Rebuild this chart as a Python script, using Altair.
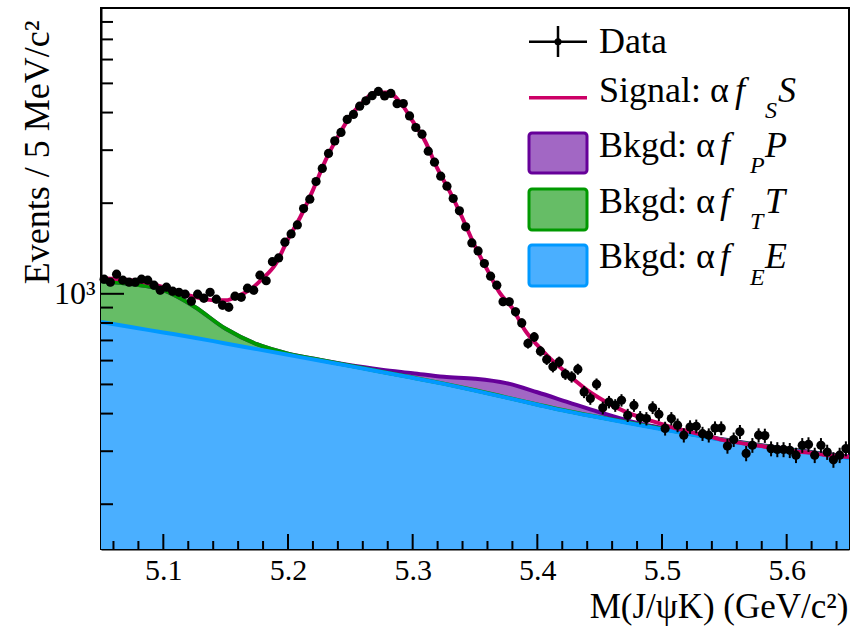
import altair as alt
import numpy as np
import pandas as pd

# ---------------- data ----------------
BIN_LO = 5.05          # GeV/c^2, left edge of first bin
BIN_W = 0.005          # 5 MeV/c^2 bins
counts = [
    1118, 1093, 1162, 1110, 1093, 1093, 1118, 1110, 1068, 1028,
    1052, 1020, 1012, 997, 945, 997, 967, 1012, 960, 917,
    903, 982, 974, 1044, 1028, 1153, 1105, 1278, 1316, 1484,
    1581, 1694, 1920, 2062, 2361, 2608, 2925, 3221, 3435, 3794,
    3942, 4201, 4375, 4552, 4701, 4541, 4629, 4281, 4287, 3899,
    3568, 3390, 2977, 2737, 2458, 2278, 2073, 1886, 1669, 1476,
    1388, 1261, 1144, 1068, 941, 941, 871, 800, 684, 719,
    645, 605, 572, 594, 541, 530, 562, 472, 449, 501,
    418, 437, 426, 443, 395, 426, 388, 385, 419, 398,
    357, 385, 366, 339, 361, 363, 343, 339, 358, 358,
    312, 328, 348, 295, 314, 339, 338, 306, 304, 304,
    302, 291, 314, 316, 291, 314, 298, 281, 291, 306,
]

# total fit curve (signal line), sampled every 10 MeV
fit_x = [5.05, 5.06, 5.07, 5.08, 5.09, 5.10, 5.11, 5.12, 5.13, 5.14,
         5.15, 5.16, 5.17, 5.18, 5.19, 5.20, 5.21, 5.22, 5.23, 5.24,
         5.25, 5.26, 5.27, 5.28, 5.29, 5.30, 5.31, 5.32, 5.33, 5.34,
         5.35, 5.36, 5.37, 5.38, 5.39, 5.40, 5.41, 5.42, 5.43, 5.44,
         5.45, 5.46, 5.47, 5.48, 5.49, 5.50, 5.51, 5.52, 5.53, 5.54,
         5.55, 5.56, 5.57, 5.58, 5.59, 5.60, 5.61, 5.62, 5.63, 5.64, 5.65]
fit_total = [1127, 1122, 1114, 1101, 1080, 1052, 1020, 989, 967, 952,
             952, 982, 1036, 1127, 1254, 1518, 1803, 2210, 2768, 3327,
             3890, 4330, 4660, 4660, 4330, 3745, 3211, 2598, 2175, 1782,
             1439, 1198, 1005, 896, 757, 675, 611, 562, 516, 479,
             450, 426, 407, 392, 380, 369, 358, 350, 342, 334,
             326, 321, 316, 312, 307, 303, 299, 296, 292, 289, 287]

# stacked background components (cumulative edges), sampled every 25 MeV
comp_x = [5.050, 5.075, 5.100, 5.125, 5.150, 5.175, 5.200, 5.225, 5.250,
          5.275, 5.300, 5.325, 5.350, 5.375, 5.400, 5.425, 5.450, 5.475,
          5.500, 5.525, 5.550, 5.575, 5.600, 5.625, 5.650]
edge_E = [806, 774, 744, 715, 684, 655, 627, 600, 575, 550, 526, 502, 477,
          452, 428, 406, 388, 371, 355, 340, 326, 314, 304, 294, 285]
edge_ET = [1101, 1076, 1028, 906, 765, 680, 633, 604, 577, 551, 527, 503,
           478, 453, 429, 407, 389, 372, 356, 341, 327, 315, 305, 295, 286]
edge_ETP = [1101, 1076, 1028, 906, 765, 680, 633, 604, 579, 560, 545, 530,
            522, 505, 471, 436, 404, 377, 359, 343, 328, 316, 306, 296, 288]

x_major = [5.1, 5.2, 5.3, 5.4, 5.5, 5.6]
x_minor = [5.06, 5.08, 5.12, 5.14, 5.16, 5.18, 5.22, 5.24, 5.26, 5.28,
           5.32, 5.34, 5.36, 5.38, 5.42, 5.44, 5.46, 5.48, 5.52, 5.54,
           5.56, 5.58, 5.62, 5.64]
y_major = [1000]
y_minor = [200, 300, 400, 500, 600, 700, 800, 900,
           2000, 3000, 4000, 5000, 6000, 7000, 8000]
Y_LO, Y_HI = 142, 8900

# ---------------- style ----------------
W, H = 748, 541
FONT = "Liberation Serif"
C_SIG = "#cc0066"
C_E, F_E = "#0099ff", "#4aafff"
C_T, F_T = "#009900", "#66bd66"
C_P, F_P = "#660099", "#a267c4"

XS = alt.Scale(domain=[5.05, 5.65], nice=False, zero=False)
YS = alt.Scale(type="log", domain=[Y_LO, Y_HI], nice=False)

data_df = pd.DataFrame({"x": BIN_LO + BIN_W * (np.arange(len(counts)) + 0.5),
                        "y": counts})
data_df["lo"] = data_df["y"] - np.sqrt(data_df["y"])
data_df["hi"] = data_df["y"] + np.sqrt(data_df["y"])
comp_df = pd.DataFrame({"x": comp_x, "e": edge_E, "et": edge_ET, "etp": edge_ETP})
comp_df["floor"] = Y_LO
fit_df = pd.DataFrame({"x": fit_x, "y": fit_total})

x_axis = alt.Axis(values=x_major, format=".1f", labelFont=FONT, labelFontSize=30,
                  labelColor="black", tickSize=0, labelPadding=6,
                  domainColor="black", domainWidth=2, grid=False,
                  title="M(J/ψK) (GeV/c²)", titleFont=FONT, titleFontSize=35,
                  titleFontWeight="normal", titleColor="black",
                  titleAlign="right", titleBaseline="alphabetic",
                  titleX=W - 1, titleY=68)
y_axis = alt.Axis(values=y_major, labelExpr="'10³'", labelFont=FONT,
                  labelFontSize=32, labelColor="black", tickSize=0,
                  labelPadding=6, domainColor="black", domainWidth=2,
                  grid=False, title="Events / 5 MeV/c²", titleFont=FONT,
                  titleFontSize=36, titleFontWeight="normal",
                  titleColor="black", titleAngle=270, titleAlign="right",
                  titleBaseline="alphabetic", titleX=-53, titleY=12)


def X(field="x"):
    return alt.X(f"{field}:Q", scale=XS, axis=x_axis)


def Y(field):
    return alt.Y(f"{field}:Q", scale=YS, axis=y_axis)


base_c = alt.Chart(comp_df)
area_E = base_c.mark_area(color=F_E, interpolate="monotone").encode(
    x=X(), y=Y("e"), y2="floor:Q")
area_T = base_c.mark_area(color=F_T, interpolate="monotone").encode(
    x=X(), y=Y("et"), y2="e:Q")
area_P = base_c.mark_area(color=F_P, interpolate="monotone").encode(
    x=X(), y=Y("etp"), y2="et:Q")


def edge(field, color):
    return base_c.mark_line(color=color, strokeWidth=4, interpolate="monotone").encode(
        x=X(), y=Y(field))


line_P = edge("etp", C_P)
line_T = edge("et", C_T)
line_E = edge("e", C_E)

fit_line = alt.Chart(fit_df).mark_line(color=C_SIG, strokeWidth=4,
                                       interpolate="monotone").encode(
    x=X(), y=Y("y"))

err = alt.Chart(data_df).mark_rule(color="black", strokeWidth=2).encode(
    x=X(), y=Y("lo"), y2="hi:Q")
pts = alt.Chart(data_df).mark_circle(color="black", size=85, opacity=1).encode(
    x=X(), y=Y("y"))


# inner ticks (ROOT style)
def xticks(vals, length):
    return alt.Chart(pd.DataFrame({"x": vals})).mark_rule(color="black", strokeWidth=2).encode(
        x=X(), y=alt.value(H), y2=alt.value(H - length))


def yticks(vals, length):
    return alt.Chart(pd.DataFrame({"y": vals})).mark_rule(color="black", strokeWidth=2).encode(
        y=Y("y"), x=alt.value(0), x2=alt.value(length))


ticks = [xticks(x_major, 15), xticks(x_minor, 8), yticks(y_major, 23), yticks(y_minor, 12)]

# ---------------- legend ----------------
one = pd.DataFrame({"k": [0]})


def txt(s, x, y, size=36, style="normal"):
    return alt.Chart(one).mark_text(text=s, font=FONT, fontSize=size, fontStyle=style,
                                    align="left", baseline="alphabetic",
                                    color="black").encode(x=alt.value(x), y=alt.value(y))


def hrule(x1, x2, y, color, w):
    return alt.Chart(one).mark_rule(color=color, strokeWidth=w).encode(
        x=alt.value(x1), x2=alt.value(x2), y=alt.value(y))


def box(y1, y2, fill, stroke):
    return alt.Chart(one).mark_rect(fill=fill, stroke=stroke, strokeWidth=3,
                                    cornerRadius=3).encode(
        x=alt.value(428), x2=alt.value(486), y=alt.value(y1), y2=alt.value(y2))


LX = 498
legend = [
    hrule(428, 486, 33.7, "black", 2.5),
    alt.Chart(one).mark_rule(color="black", strokeWidth=2.5).encode(
        x=alt.value(457), y=alt.value(18), y2=alt.value(49)),
    alt.Chart(one).mark_circle(color="black", size=50, opacity=1).encode(
        x=alt.value(457), y=alt.value(33.7)),
    txt("Data", LX, 45.3),
    hrule(428, 486, 89.7, C_SIG, 3.5),
    txt("Signal: α", LX, 93.7), txt("f", 634, 93.7, style="italic"),
    txt("S", 664, 110, 24, "italic"), txt("S", 677, 93.7, style="italic"),
    box(125, 165, F_P, C_P),
    txt("Bkgd: α", LX, 148.7), txt("f", 619, 148.7, style="italic"),
    txt("P", 649, 165, 24, "italic"), txt("P", 664, 148.7, style="italic"),
    box(181, 222, F_T, C_T),
    txt("Bkgd: α", LX, 205), txt("f", 619, 205, style="italic"),
    txt("T", 649, 221, 24, "italic"), txt("T", 664, 205, style="italic"),
    box(237, 278, F_E, C_E),
    txt("Bkgd: α", LX, 260.3), txt("f", 619, 260.3, style="italic"),
    txt("E", 649, 276.6, 24, "italic"), txt("E", 664, 260.3, style="italic"),
]

chart = alt.layer(
    area_E, area_T, area_P, line_P, line_T, line_E, *ticks,
    fit_line, err, pts, *legend
).properties(
    width=W, height=H,
    padding={"left": 101, "top": 8, "right": 1, "bottom": 77},
    autosize=alt.AutoSizeParams(type="none"),
).configure_view(stroke="black", strokeWidth=2)

chart.save("out.html", embed_options={"renderer": "svg", "actions": False})
